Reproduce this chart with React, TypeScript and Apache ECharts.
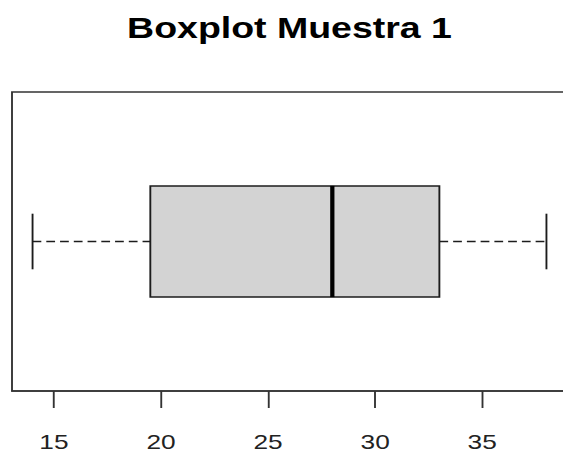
import React, { useEffect, useRef } from "react";
import * as echarts from "echarts";

// Five-number summary of the sample (whisker ends, hinges, median)
const categories = ["Muestra 1"];
const whiskerLow = [14];
const lowerHinge = [19.5];
const medians = [28];
const upperHinge = [33];
const whiskerHigh = [38];

// Axis range (data range padded by 4% on each side) and labelled ticks
const axisMin = 13.04;
const axisMax = 38.96;
const tickValues = [15, 20, 25, 30, 35];

const titleText = "Boxplot Muestra 1";

// The plot is laid out on a narrower canvas and stretched horizontally.
const STRETCH = 1.25;
const VIEW_W = 563;
const VIEW_H = 454;
const INNER_W = 480;

const INK = "#1c1c1c";
const FRAME = "#333333";
const FONT = "'Liberation Sans', Arial, Helvetica, sans-serif";

export default function App() {
  const ref = useRef<HTMLDivElement>(null);

  useEffect(() => {
    if (!ref.current) return;
    const chart = echarts.init(ref.current, undefined, { renderer: "svg" });

    const data = categories.map((_, i) => [
      i,
      whiskerLow[i],
      lowerHinge[i],
      medians[i],
      upperHinge[i],
      whiskerHigh[i],
    ]);

    chart.setOption({
      animation: false,
      backgroundColor: "#ffffff",
      graphic: [
        {
          type: "text",
          x: (12 + 567) / 2 / STRETCH,
          y: 27,
          style: {
            text: titleText,
            fontSize: 30,
            fontWeight: "bold",
            fontFamily: FONT,
            fill: "#000000",
            align: "center",
            textAlign: "center",
            verticalAlign: "middle",
            textVerticalAlign: "middle",
          },
        },
      ],
      grid: {
        left: 12 / STRETCH,
        top: 92,
        width: 555 / STRETCH,
        height: 299,
        show: true,
        borderColor: FRAME,
        borderWidth: 1.5,
        backgroundColor: "transparent",
        outerBoundsMode: "none",
        containLabel: false,
      },
      xAxis: {
        type: "value",
        min: axisMin,
        max: axisMax,
        position: "bottom",
        splitLine: { show: false },
        axisLine: { show: true, lineStyle: { color: FRAME, width: 1.5 } },
        axisTick: {
          show: true,
          length: 17,
          customValues: tickValues,
          lineStyle: { color: FRAME, width: 1.5 },
        },
        axisLabel: {
          show: true,
          customValues: tickValues,
          margin: 40,
          fontSize: 21,
          fontFamily: FONT,
          color: "#222222",
        },
      },
      yAxis: {
        type: "category",
        data: categories,
        show: false,
        boundaryGap: true,
      },
      series: [
        {
          type: "custom",
          data,
          encode: { x: [1, 2, 3, 4, 5], y: 0 },
          renderItem: (_params: any, api: any) => {
            const ci = api.value(0);
            const lo = api.coord([api.value(1), ci]);
            const h1 = api.coord([api.value(2), ci]);
            const md = api.coord([api.value(3), ci]);
            const h3 = api.coord([api.value(4), ci]);
            const hi = api.coord([api.value(5), ci]);
            const band = api.size([0, 1])[1];
            const boxH = band * 0.372;
            const yc = md[1];
            const top = yc - boxH / 2;
            const capH = boxH / 2;
            const dash = { stroke: INK, lineWidth: 1.3, lineDash: [7, 4] };
            const solid = { stroke: INK, lineWidth: 1.5 };
            return {
              type: "group",
              children: [
                { type: "line", shape: { x1: lo[0], y1: yc, x2: h1[0], y2: yc }, style: dash },
                { type: "line", shape: { x1: h3[0], y1: yc, x2: hi[0], y2: yc }, style: dash },
                { type: "line", shape: { x1: lo[0], y1: yc - capH / 2, x2: lo[0], y2: yc + capH / 2 }, style: solid },
                { type: "line", shape: { x1: hi[0], y1: yc - capH / 2, x2: hi[0], y2: yc + capH / 2 }, style: solid },
                {
                  type: "rect",
                  shape: { x: h1[0], y: top, width: h3[0] - h1[0], height: boxH },
                  style: { fill: "#d3d3d3", stroke: INK, lineWidth: 1.5 },
                },
                {
                  type: "line",
                  shape: { x1: md[0], y1: top, x2: md[0], y2: top + boxH },
                  style: { stroke: "#000000", lineWidth: 3.4 },
                },
              ],
            };
          },
        },
      ],
    });

    return () => {
      chart.dispose();
    };
  }, []);

  return (
    <div
      style={{
        position: "fixed",
        left: 0,
        top: 0,
        width: VIEW_W,
        height: VIEW_H,
        overflow: "hidden",
        background: "#ffffff",
      }}
    >
      <div
        ref={ref}
        style={{
          width: INNER_W,
          height: VIEW_H,
          transform: `scaleX(${STRETCH})`,
          transformOrigin: "0 0",
        }}
      />
    </div>
  );
}
